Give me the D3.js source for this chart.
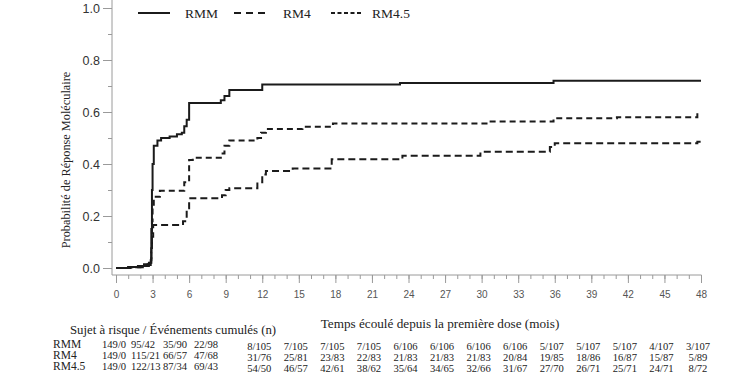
<!DOCTYPE html>
<html>
<head>
<meta charset="utf-8">
<script src="https://cdn.jsdelivr.net/npm/d3@7"></script>
<style>
  body { margin: 0; background: #fff; }
  svg { font-family: "Liberation Serif", "Times New Roman", serif; }
</style>
</head>
<body>
<svg id="chart" width="756" height="389"></svg>
<script>
// * series: [month, probability] step points
const rmm = [
  [0, 0], [1.0, 0.004], [1.8, 0.008], [2.3, 0.014], [2.7, 0.02], [2.85, 0.03],
  [2.9, 0.15], [2.95, 0.3], [3.0, 0.4], [3.1, 0.47], [3.4, 0.49], [3.7, 0.5],
  [4.4, 0.506], [5.0, 0.514], [5.4, 0.52], [5.6, 0.545], [5.8, 0.57], [6.0, 0.635],
  [8.6, 0.645], [8.9, 0.662], [9.3, 0.685], [12.0, 0.706], [23.3, 0.712],
  [35.9, 0.72], [48, 0.72]
];
const rm4 = [
  [0, 0], [1.0, 0.003], [2.0, 0.008], [2.6, 0.014], [2.85, 0.02], [2.9, 0.08],
  [2.95, 0.18], [3.0, 0.23], [3.1, 0.274], [3.6, 0.297], [5.6, 0.33], [6.0, 0.415],
  [6.3, 0.424], [8.6, 0.44], [8.9, 0.47], [9.3, 0.49], [11.6, 0.5], [11.9, 0.52],
  [12.3, 0.535], [15.3, 0.543], [17.8, 0.556], [30.4, 0.563], [35.9, 0.576],
  [41.1, 0.58], [47.7, 0.595], [48, 0.595]
];
const rm45 = [
  [0, 0], [1.2, 0.003], [2.2, 0.008], [2.7, 0.012], [2.85, 0.02], [2.9, 0.06],
  [2.95, 0.12], [3.05, 0.165], [5.5, 0.18], [5.8, 0.23], [6.0, 0.268], [8.7, 0.28],
  [9.0, 0.3], [9.3, 0.307], [11.6, 0.33], [12.0, 0.36], [12.3, 0.373], [14.5, 0.383],
  [17.7, 0.418], [23.5, 0.432], [29.9, 0.447], [35.6, 0.465], [36.0, 0.48],
  [47.7, 0.486], [48, 0.486]
];

// * legend / series names
const seriesNames = ['RMM', 'RM4', 'RM4.5'];

// * axis ticks
const xTicks = [0, 3, 6, 9, 12, 15, 18, 21, 24, 27, 30, 33, 36, 39, 42, 45, 48];
const yTicks = [0, 0.2, 0.4, 0.6, 0.8, 1.0];

// * risk table (at risk / cumulative events), one value per x tick
const riskRmm = ['149/0', '95/42', '35/90', '22/98', '8/105', '7/105', '7/105', '7/105', '6/106',
  '6/106', '6/106', '6/106', '5/107', '5/107', '5/107', '4/107', '3/107'];
const riskRm4 = ['149/0', '115/21', '66/57', '47/68', '31/76', '25/81', '23/83', '22/83', '21/83',
  '21/83', '21/83', '20/84', '19/85', '18/86', '16/87', '15/87', '5/89'];
const riskRm45 = ['149/0', '122/13', '87/34', '69/43', '54/50', '46/57', '42/61', '38/62', '35/64',
  '34/65', '32/66', '31/67', '27/70', '26/71', '25/71', '24/71', '8/72'];

const xTitle = 'Temps écoulé depuis la première dose (mois)';
const yTitle = 'Probabilité de Réponse Moléculaire';
const tableTitle = 'Sujet à risque / Événements cumulés (n)';

const axisColor = '#9a9a9a';
const lineColor = '#1b1b1b';
const serif = '"Liberation Serif", "Times New Roman", serif';

const svg = d3.select('#chart');

const xScale = d3.scaleLinear().domain([0, 48]).range([116, 701]);
const yScale = d3.scaleLinear().domain([0, 1]).range([268, 8]);
const axisY = 275;
const axisX = 112;

// axes lines
svg.append('line')
  .attr('x1', axisX).attr('x2', axisX)
  .attr('y1', 0).attr('y2', axisY)
  .attr('stroke', axisColor);
svg.append('line')
  .attr('x1', axisX).attr('x2', xScale(48) + 0.5)
  .attr('y1', axisY).attr('y2', axisY)
  .attr('stroke', axisColor);

// x ticks: minor every month, major every 3
const xAxis = d3.axisBottom(xScale)
  .tickValues(d3.range(0, 49))
  .tickSize(4)
  .tickFormat('');
svg.append('g')
  .attr('transform', `translate(0,${axisY})`)
  .call(xAxis)
  .call((g) => g.select('.domain').remove())
  .call((g) => g.selectAll('line').attr('stroke', axisColor));

const xAxisMajor = d3.axisBottom(xScale)
  .tickValues(xTicks)
  .tickSize(8)
  .tickPadding(8)
  .tickFormat(d3.format('d'));
svg.append('g')
  .attr('transform', `translate(0,${axisY})`)
  .attr('font-family', serif)
  .call(xAxisMajor)
  .call((g) => g.select('.domain').remove())
  .call((g) => g.selectAll('line').attr('stroke', axisColor))
  .call((g) => g.selectAll('text')
    .attr('fill', '#555')
    .style('font-size', '10px'));

// y ticks: minor every 0.1, major every 0.2
const yAxisMinor = d3.axisLeft(yScale)
  .tickValues(d3.range(0, 11).map((i) => i / 10))
  .tickSize(4)
  .tickFormat('');
svg.append('g')
  .attr('transform', `translate(${axisX},0)`)
  .call(yAxisMinor)
  .call((g) => g.select('.domain').remove())
  .call((g) => g.selectAll('line').attr('stroke', axisColor));

const yAxis = d3.axisLeft(yScale)
  .tickValues(yTicks)
  .tickSize(9)
  .tickPadding(3)
  .tickFormat(d3.format('.1f'));
svg.append('g')
  .attr('transform', `translate(${axisX},0)`)
  .attr('font-family', serif)
  .call(yAxis)
  .call((g) => g.select('.domain').remove())
  .call((g) => g.selectAll('line').attr('stroke', axisColor))
  .call((g) => g.selectAll('text')
    .attr('fill', '#333')
    .style('font-size', '12.5px'));

// y title
svg.append('text')
  .attr('transform', 'translate(70,160) rotate(-90)')
  .attr('text-anchor', 'middle')
  .attr('fill', '#222')
  .style('font-size', '12.3px')
  .text(yTitle);

// curves
const line = d3.line()
  .x((d) => xScale(d[0]))
  .y((d) => yScale(d[1]))
  .curve(d3.curveStepAfter);

const series = [
  { name: seriesNames[0], data: rmm, dash: null, legendDash: null },
  { name: seriesNames[1], data: rm4, dash: '6,4', legendDash: '7,5' },
  { name: seriesNames[2], data: rm45, dash: '7,4', legendDash: '4,2.5' }
];

svg.append('g')
  .selectAll('path')
  .data(series)
  .enter()
  .append('path')
  .attr('d', (d) => line(d.data))
  .attr('fill', 'none')
  .attr('stroke', lineColor)
  .attr('stroke-width', 2)
  .attr('stroke-dasharray', (d) => d.dash);

// legend
const legendX = [138, 234, 331];
const legendTextX = [185, 283, 372];
const legend = svg.append('g');
series.forEach((s, i) => {
  legend.append('line')
    .attr('x1', legendX[i]).attr('x2', legendX[i] + 32)
    .attr('y1', 13).attr('y2', 13)
    .attr('stroke', lineColor)
    .attr('stroke-width', 2)
    .attr('stroke-dasharray', s.legendDash);
  legend.append('text')
    .attr('x', legendTextX[i])
    .attr('y', 18)
    .attr('fill', '#222')
    .style('font-size', '13.5px')
    .text(s.name);
});

// x title
svg.append('text')
  .attr('x', 440)
  .attr('y', 328)
  .attr('text-anchor', 'middle')
  .attr('fill', '#222')
  .style('font-size', '13.2px')
  .text(xTitle);

// risk table
svg.append('text')
  .attr('x', 70)
  .attr('y', 334)
  .attr('fill', '#222')
  .style('font-size', '12.8px')
  .text(tableTitle);

// first four columns are packed left, the rest sit under their ticks
const firstColStart = [102, 131, 163, 194];
const rows = [riskRmm, riskRm4, riskRm45];
rows.forEach((row, r) => {
  const y = 348 + r * 11;
  svg.append('text')
    .attr('x', 53)
    .attr('y', y)
    .attr('fill', '#222')
    .style('font-size', '11.5px')
    .text(seriesNames[r]);
  svg.append('g')
    .selectAll('text')
    .data(row)
    .enter()
    .append('text')
    .attr('x', (d, i) => i < 4 ? firstColStart[i] : xScale(xTicks[i]) - 3)
    .attr('y', (d, i) => i < 4 ? y : y + 1.5)
    .attr('text-anchor', (d, i) => i < 4 ? 'start' : 'middle')
    .attr('fill', '#222')
    .style('font-size', '10.6px')
    .text((d) => d);
});
</script>
</body>
</html>
